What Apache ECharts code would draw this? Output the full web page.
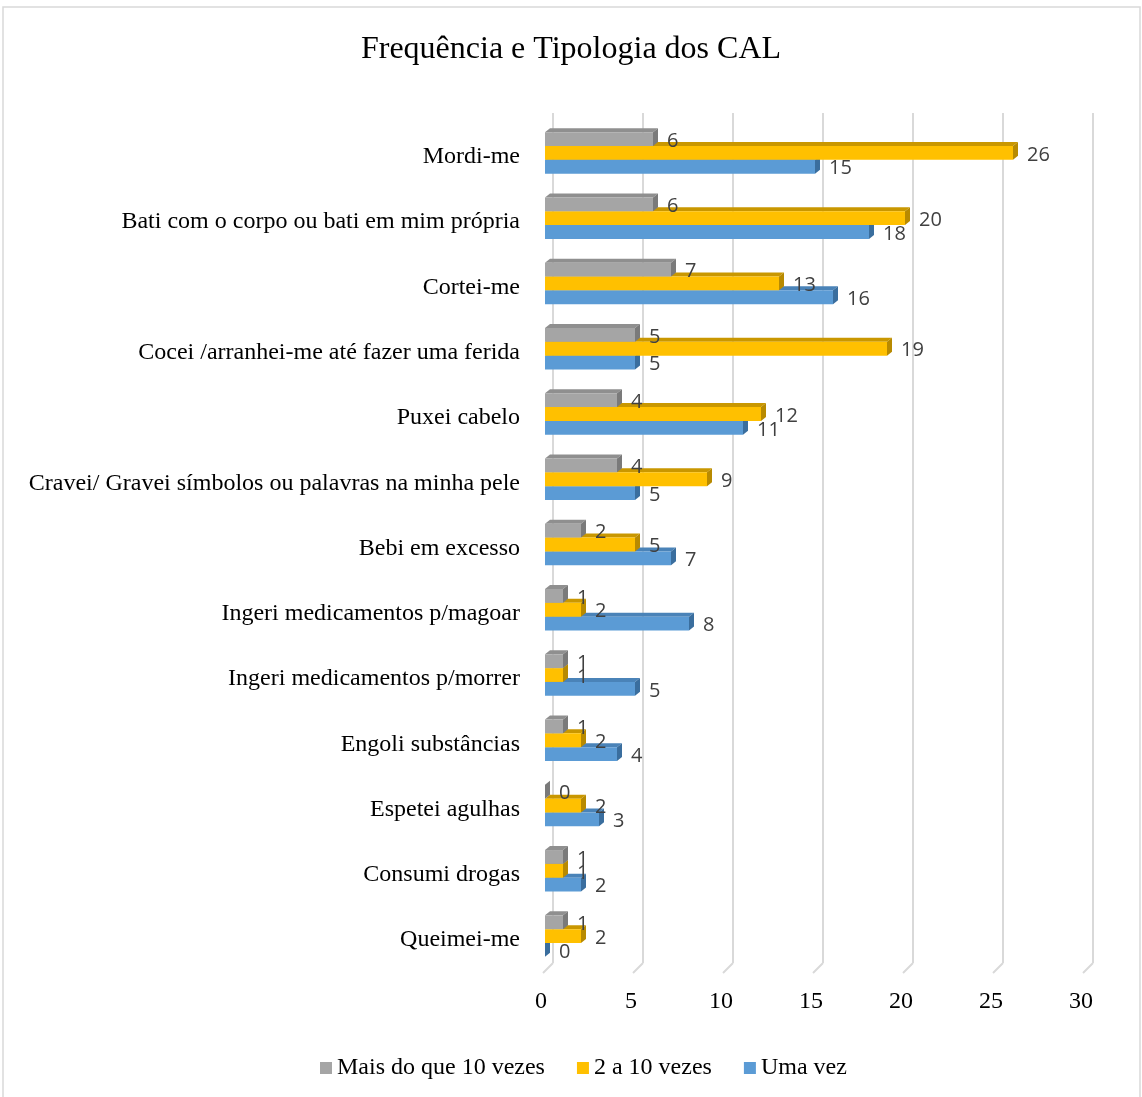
<!DOCTYPE html>
<html>
<head>
<meta charset="utf-8">
<script src="https://cdn.jsdelivr.net/npm/echarts@6/dist/echarts.min.js"></script>
<style>
html,body{margin:0;padding:0;background:#fff;}
#chart{width:1142px;height:1097px;}
</style>
</head>
<body>
<div id="chart"></div>
<script>
const categories = [
  'Mordi-me',
  'Bati com o corpo ou bati em mim própria',
  'Cortei-me',
  'Cocei /arranhei-me até fazer uma ferida',
  'Puxei cabelo',
  'Cravei/ Gravei símbolos ou palavras na minha pele',
  'Bebi em excesso',
  'Ingeri medicamentos p/magoar',
  'Ingeri medicamentos p/morrer',
  'Engoli substâncias',
  'Espetei agulhas',
  'Consumi drogas',
  'Queimei-me'
];
const seriesNames = ['Mais do que 10 vezes', '2 a 10 vezes', 'Uma vez'];
const mais10 = [6, 6, 7, 5, 4, 4, 2, 1, 1, 1, 0, 1, 1];
const de2a10 = [26, 20, 13, 19, 12, 9, 5, 2, 1, 2, 2, 1, 2];
const umaVez = [15, 18, 16, 5, 11, 5, 7, 8, 5, 4, 3, 2, 0];
const xTicks = [0, 5, 10, 15, 20, 25, 30];

const palette = [
  {front: '#a5a5a5', top: '#8f8f8f', side: '#7a7a7a'},
  {front: '#ffc000', top: '#c99700', side: '#b88a00'},
  {front: '#5b9bd5', top: '#4a83b8', side: '#3a6e9e'}
];
const seriesData = [mais10, de2a10, umaVez];

const SERIF = '"Liberation Serif", "Times New Roman", serif';
const SANS = '"Open Sans", "Liberation Sans", sans-serif';

function makeRender(si) {
  return function (params, api) {
    const v = api.value(0), ci = api.value(1);
    const p0 = api.coord([0, ci]);
    const p1 = api.coord([v, ci]);
    const band = api.size([0, 1])[1];
    const h = band * 0.212;
    const dx = 5, dy = 4;
    const y = p0[1] - 1.5 * h - 4 + si * h;
    const x0 = p0[0], x1 = p1[0];
    const c = palette[si];
    return {
      type: 'group',
      children: [
        {type: 'polygon', shape: {points: [[x0, y], [x0 + dx, y - dy], [x1 + dx, y - dy], [x1, y]]},
          style: {fill: c.top}},
        {type: 'polygon', shape: {points: [[x1, y], [x1 + dx, y - dy], [x1 + dx, y + h - dy], [x1, y + h]]},
          style: {fill: c.side}},
        {type: 'rect', shape: {x: x0, y: y, width: Math.max(x1 - x0, 0), height: h},
          style: {fill: c.front}},
        {type: 'text', x: x1 + dx + 9, y: y + h / 2 + 2,
          style: {text: String(v), fill: '#404040', font: '20px ' + SANS, verticalAlign: 'middle', align: 'left'}}
      ]
    };
  };
}

const series = [];
for (let si = 0; si < 3; si++) {
  series.push({
    name: seriesNames[si],
    type: 'custom',
    xAxisIndex: 1,
    yAxisIndex: 1,
    z: 10 - si,
    itemStyle: {color: palette[si].front},
    renderItem: makeRender(si),
    encode: {x: 0, y: 1},
    data: seriesData[si].map((v, i) => [v, i])
  });
}
// floor diagonal ticks connecting back wall gridlines to the front labels
series.push({
  type: 'custom',
  xAxisIndex: 0,
  yAxisIndex: 0,
  silent: true,
  z: 1,
  renderItem: function (params, api) {
    const p = api.coord([api.value(0), 0]);
    return {type: 'line', shape: {x1: p[0], y1: p[1], x2: p[0] - 10, y2: p[1] + 10},
      style: {stroke: '#d9d9d9', lineWidth: 2}};
  },
  data: xTicks.map(t => [t])
});

const chart = echarts.init(document.getElementById('chart'), null, {renderer: 'canvas'});
chart.setOption({
  animation: false,
  backgroundColor: '#fff',
  title: {
    text: 'Frequência e Tipologia dos CAL',
    left: 'center',
    top: 29,
    textStyle: {fontFamily: SERIF, fontSize: 32, fontWeight: 'normal', color: '#000'}
  },
  legend: {
    bottom: 12,
    left: 315,
    itemWidth: 12,
    itemHeight: 12,
    itemGap: 32,
    icon: 'rect',
    data: seriesNames,
    textStyle: {fontFamily: SERIF, fontSize: 24, color: '#000'}
  },
  graphic: [{
    type: 'rect', shape: {x: 3, y: 7, width: 1137, height: 1100},
    style: {fill: 'none', stroke: '#d9d9d9', lineWidth: 1.5}, silent: true, z: -1
  }],
  grid: [
    {left: 553, width: 540, top: 113, height: 850},
    {left: 545, width: 540, top: 124.3, height: 848.4}
  ],
  xAxis: [
    {gridIndex: 0, type: 'value', min: 0, max: 30, interval: 5,
      axisLine: {show: false}, axisTick: {show: false}, axisLabel: {show: false},
      splitLine: {show: true, lineStyle: {color: '#d9d9d9', width: 2}}},
    {gridIndex: 1, type: 'value', min: 0, max: 30, interval: 5,
      axisLine: {show: false}, axisTick: {show: false}, splitLine: {show: false},
      axisLabel: {margin: 17, padding: [0, 8, 0, 0], fontFamily: SERIF, fontSize: 24, color: '#000',
        formatter: function (v) { return String(v); }}}
  ],
  yAxis: [
    {gridIndex: 0, type: 'value', min: 0, max: 1, show: false},
    {gridIndex: 1, type: 'category', data: categories, inverse: true,
      axisLine: {show: false}, axisTick: {show: false}, splitLine: {show: false},
      axisLabel: {margin: 25, padding: [4, 0, 0, 0], fontFamily: SERIF, fontSize: 24, color: '#000'}}
  ],
  series: series
});
</script>
</body>
</html>
